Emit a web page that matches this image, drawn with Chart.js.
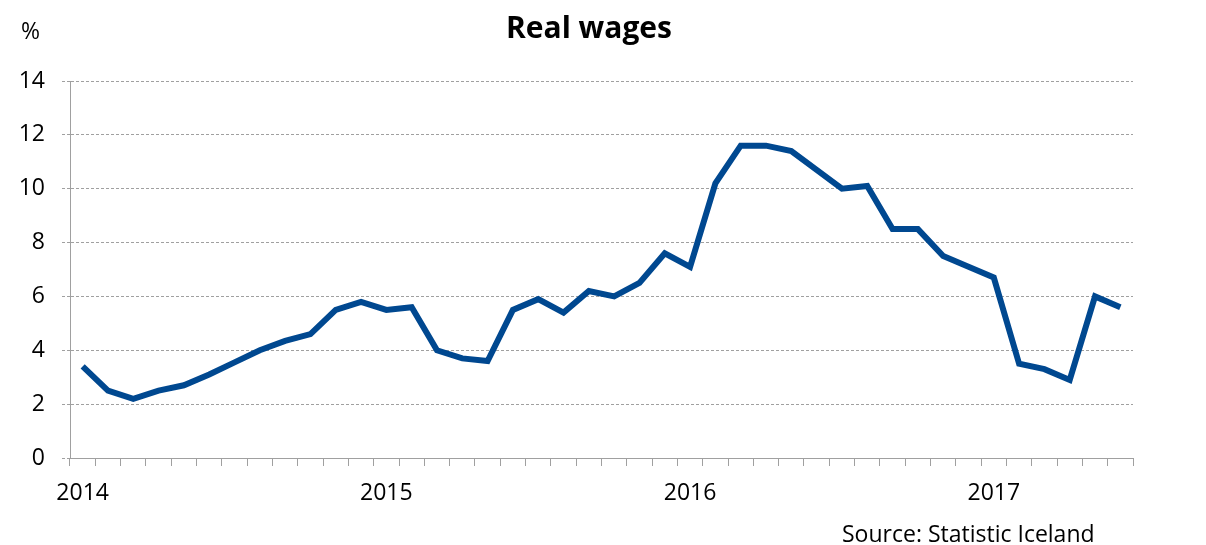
<!DOCTYPE html>
<html>
<head>
<meta charset="utf-8">
<script src="https://cdn.jsdelivr.net/npm/chart.js@4.4.1/dist/chart.umd.min.js"></script>
<style>
  html, body { margin: 0; padding: 0; background: #fff; }
  #wrap { width: 1206px; height: 545px; }
</style>
</head>
<body>
<div id="wrap"><canvas id="grafico"></canvas></div>
<script>
// Dados mensais, jan 2014 - jun 2017
const anos = ["2014", "2015", "2016", "2017"];
const meses = ["Jan", "Feb", "Mar", "Apr", "May", "Jun", "Jul", "Aug", "Sep", "Oct", "Nov", "Dec"];
const realWages = [
  3.4, 2.5, 2.2, 2.5, 2.7, 3.1, 3.55, 4.0, 4.35, 4.6, 5.5, 5.8,
  5.5, 5.6, 4.0, 3.7, 3.6, 5.5, 5.9, 5.4, 6.2, 6.0, 6.5, 7.6,
  7.1, 10.2, 11.6, 11.6, 11.4, 10.7, 10.0, 10.1, 8.5, 8.5, 7.5, 7.1,
  6.7, 3.5, 3.3, 2.9, 6.0, 5.6
];
const yTicks = [0, 2, 4, 6, 8, 10, 12, 14];

const labels = realWages.map((v, i) => anos[Math.floor(i / 12)] + " " + meses[i % 12]);

const fonte = "'Open Sans', 'Noto Sans', sans-serif";
const cinza = "#a0a0a0";

// Textos fixos: título, unidade e fonte dos dados
const textos = {
  id: "textos",
  afterDraw(chart) {
    const ctx = chart.ctx;
    ctx.save();
    ctx.fillStyle = "#000";
    ctx.textBaseline = "alphabetic";
    ctx.font = "bold 30px " + fonte;
    ctx.textAlign = "center";
    ctx.fillText("Real wages", 589, 38);
    ctx.font = "23px " + fonte;
    ctx.textAlign = "left";
    ctx.fillText("%", 21, 39);
    ctx.fillText("Source: Statistic Iceland", 842, 542);
    ctx.restore();
  }
};

const ctx = document.getElementById("grafico").getContext("2d");
new Chart(ctx, {
  type: "line",
  data: {
    labels: labels,
    datasets: [{
      label: "Real wages",
      data: realWages,
      borderColor: "#004890",
      borderWidth: 6,
      pointRadius: 0,
      tension: 0,
      fill: false,
    }],
  },
  options: {
    responsive: true,
    maintainAspectRatio: false,
    animation: false,
    layout: { padding: { top: 81, right: 73, bottom: 0, left: 0 } },
    plugins: {
      legend: { display: false },
      tooltip: { enabled: false },
    },
    scales: {
      x: {
        type: "category",
        offset: true,
        afterFit: (scale) => { scale.height = 87; },
        grid: {
          offset: true,
          drawOnChartArea: false,
          drawTicks: true,
          tickLength: 8,
          color: cinza,
        },
        border: { color: cinza, width: 1 },
        ticks: {
          autoSkip: false,
          maxRotation: 0,
          minRotation: 0,
          padding: 14,
          color: "#000",
          font: { family: fonte, size: 23 },
          callback: (val, i) => (i % 12 === 0 ? anos[i / 12] : ""),
        },
      },
      y: {
        min: 0,
        max: 14,
        afterFit: (scale) => { scale.width = 70; },
        afterBuildTicks: (scale) => { scale.ticks = yTicks.map(v => ({ value: v })); },
        grid: {
          color: cinza,
          tickLength: 8,
          tickBorderDash: [3, 2],
        },
        border: { color: cinza, width: 1, dash: [3, 2] },
        ticks: {
          padding: 17,
          color: "#000",
          font: { family: fonte, size: 23 },
        },
      },
    },
  },
  plugins: [textos],
});
</script>
</body>
</html>
